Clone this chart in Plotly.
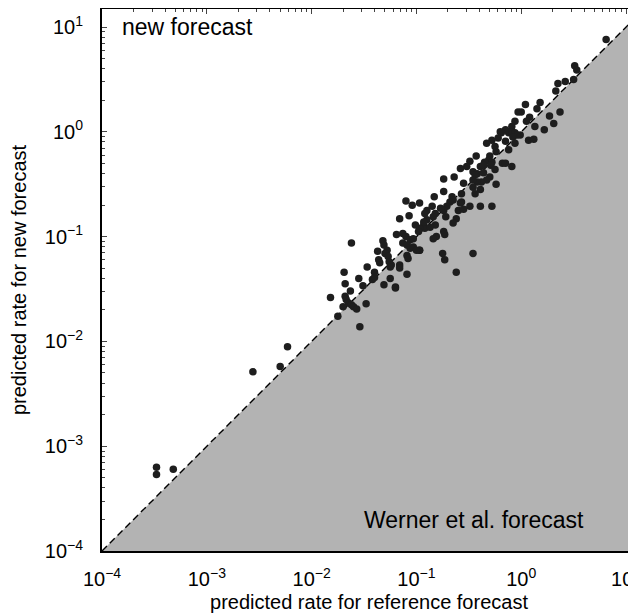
import plotly.graph_objects as go

# log10 of predicted rates
log_ref = [0.81, 0.51, 0.53, 0.50, 0.42, 0.35, 0.33, 0.18, 0.04, 0.15, 0.00, 0.08, 0.37, 0.27,
           0.05, 0.31, 0.13, 0.22, -0.01, 0.07, 0.12, -0.03, -0.06, -0.09, -0.15, -0.20, -0.19,
           -0.12, -0.09, -0.06, -0.04, -0.22, -0.15, -0.08, -0.06, -0.28, -0.33, -0.25, -0.24,
           -0.12, -0.43, -0.30, -0.31, -0.28, -0.35, -0.49, -0.52, -0.58, -0.39, -0.36, -0.29,
           -0.25, -0.18, -0.15, -0.09, -0.46, -0.42, -0.44, -0.36, -0.30, -0.33, -0.38, -0.42,
           -0.46, -0.55, -0.64, -0.74, -0.46, -0.39, -0.24, -0.44, -0.57, -0.74, -0.83, -0.66,
           -0.65, -0.68, -0.57, -0.49, -0.39, -0.28, -0.71, -0.74, -0.77, -0.85, -0.90, -0.82,
           -0.84, -0.58, -0.60, -0.55, -0.72, -0.62, -0.90, -0.93, -0.92, -0.97, -0.82, -0.65,
           -0.74, -0.73, -0.81, -0.84, -0.97, -0.75, -0.73, -0.46, -0.62, -1.10, -1.04, -0.97,
           -0.92, -1.16, -1.07, -1.01, -0.93, -0.98, -0.87, -1.19, -1.13, -1.10, -1.06, -1.03,
           -1.13, -1.09, -1.06, -1.03, -0.97, -1.00, -1.32, -1.31, -1.62, -1.37, -1.28, -1.30,
           -1.09, -1.08, -1.36, -1.35, -1.27, -1.26, -1.24, -1.25, -1.16, -1.16, -1.47, -1.40,
           -1.69, -1.09, -1.55, -1.42, -1.40, -1.25, -1.68, -1.51, -1.31, -1.20, -1.20, -1.63,
           -1.82, -1.68, -1.67, -1.65, -1.48, -1.70, -1.62, -1.60, -1.57, -1.75, -1.54, -3.48,
           -3.48, -3.32, -2.56, -2.30, -2.23]
log_new = [0.88, 0.63, 0.59, 0.50, 0.48, 0.46, 0.39, 0.28, 0.26, 0.22, 0.19, 0.14, 0.19, 0.15,
           0.10, 0.08, 0.05, 0.02, -0.03, -0.08, -0.07, 0.19, 0.10, 0.05, 0.02, 0.00, -0.01,
           -0.01, 0.00, -0.01, -0.03, -0.06, -0.09, -0.05, -0.11, -0.08, -0.11, -0.14, -0.19,
           -0.17, -0.23, -0.23, -0.27, -0.29, -0.29, -0.28, -0.33, -0.35, -0.33, -0.32, -0.32,
           -0.36, -0.30, -0.30, -0.33, -0.38, -0.40, -0.41, -0.39, -0.43, -0.46, -0.48, -0.48,
           -0.46, -0.49, -0.43, -0.45, -0.53, -0.55, -0.50, -0.59, -0.59, -0.57, -0.62, -0.62,
           -0.65, -0.67, -0.67, -0.71, -0.71, -0.71, -0.71, -0.75, -0.73, -0.71, -0.75, -0.78,
           -0.81, -0.68, -0.75, -0.74, -0.81, -0.83, -0.84, -0.89, -0.92, -0.92, -0.89, -0.87,
           -0.95, -0.98, -1.00, -1.02, -1.13, -1.16, -1.22, -1.16, -1.34, -0.66, -0.70, -0.68,
           -0.78, -0.83, -0.80, -0.89, -0.86, -0.95, -0.91, -0.98, -0.97, -1.00, -1.03, -1.02,
           -1.06, -1.08, -1.11, -1.10, -1.13, -1.13, -1.04, -1.08, -1.06, -1.14, -1.13, -1.16,
           -1.18, -1.21, -1.22, -1.25, -1.19, -1.24, -1.27, -1.29, -1.27, -1.30, -1.29, -1.34,
           -1.34, -1.36, -1.40, -1.41, -1.39, -1.40, -1.45, -1.47, -1.46, -1.48, -1.49, -1.52,
           -1.58, -1.57, -1.60, -1.63, -1.64, -1.67, -1.65, -1.67, -1.69, -1.76, -1.86, -3.20,
           -3.27, -3.22, -2.29, -2.24, -2.05]

major_vals = [1e-4, 1e-3, 1e-2, 1e-1, 1e0, 1e1]
major_text = ["10<sup>\u22124</sup>", "10<sup>\u22123</sup>", "10<sup>\u22122</sup>",
              "10<sup>\u22121</sup>", "10<sup>0</sup>", "10<sup>1</sup>"]
minor_vals = [k * 10.0 ** e for e in range(-4, 1) for k in range(2, 10)]

x_range = [-4, 1.095]
y_range = [-4, 1.172]
font = "Liberation Sans, Arial, Helvetica, sans-serif"

ref = [10 ** v for v in log_ref]
new = [10 ** v for v in log_new]

fig = go.Figure()
# region where the reference forecast is higher
fig.add_trace(go.Scatter(
    x=[1e-4, 100, 100], y=[1e-4, 100, 1e-4], fill="toself", mode="none",
    fillcolor="#b3b3b3", hoverinfo="skip", showlegend=False
))
fig.add_trace(go.Scatter(
    x=[1e-4, 100], y=[1e-4, 100], mode="lines", xaxis="x2",
    line=dict(color="black", width=1.4, dash="7px,4px"), showlegend=False
))
fig.add_trace(go.Scatter(
    x=ref, y=new, mode="markers", xaxis="x2",
    marker=dict(color="#1e1e1e", size=7.5), showlegend=False
))

fig.add_annotation(text="new forecast", x=0.034, y=0.967, xref="paper", yref="paper",
                   xanchor="left", yanchor="middle", showarrow=False,
                   font=dict(size=23, color="black", family=font))
fig.add_annotation(text="Werner et al. forecast", x=0.487, y=0.057, xref="paper", yref="paper",
                   xanchor="left", yanchor="middle", showarrow=False,
                   font=dict(size=23, color="black", family=font))

# page body adds an 8px offset, so the figure is 8px smaller and shifted
fig.update_layout(
    width=628, height=608,
    margin=dict(l=94, r=0, t=1, b=65),
    paper_bgcolor="white", plot_bgcolor="white",
    font=dict(family=font, color="black"),
    xaxis=dict(
        type="log", range=x_range, showline=True, linecolor="black", linewidth=2,
        ticks="", tickvals=major_vals, ticktext=major_text, tickfont=dict(size=20),
        ticklabelstandoff=9, ticklabeloverflow="allow", showgrid=False, zeroline=False,
        automargin=False,
        title=dict(text="predicted rate for reference forecast", font=dict(size=20), standoff=6),
    ),
    xaxis2=dict(
        type="log", range=x_range, overlaying="x", side="top", showline=True,
        linecolor="black", linewidth=2, ticks="inside", ticklen=5, tickwidth=1,
        tickvals=major_vals, showticklabels=False, showgrid=False, zeroline=False,
        automargin=False,
        minor=dict(tickvals=minor_vals, ticks="inside", ticklen=3, tickwidth=1, showgrid=False),
    ),
    yaxis=dict(
        type="log", range=y_range, showline=True, linecolor="black", linewidth=2,
        ticks="inside", ticklen=5, tickwidth=1, tickvals=major_vals, ticktext=major_text,
        tickfont=dict(size=20), ticklabelstandoff=13, showgrid=False, zeroline=False,
        automargin=False,
        minor=dict(tickvals=minor_vals, ticks="inside", ticklen=3, tickwidth=1, showgrid=False),
        title=dict(text="predicted rate for new forecast", font=dict(size=20), standoff=15),
    ),
)

fig.write_html("out.html")
